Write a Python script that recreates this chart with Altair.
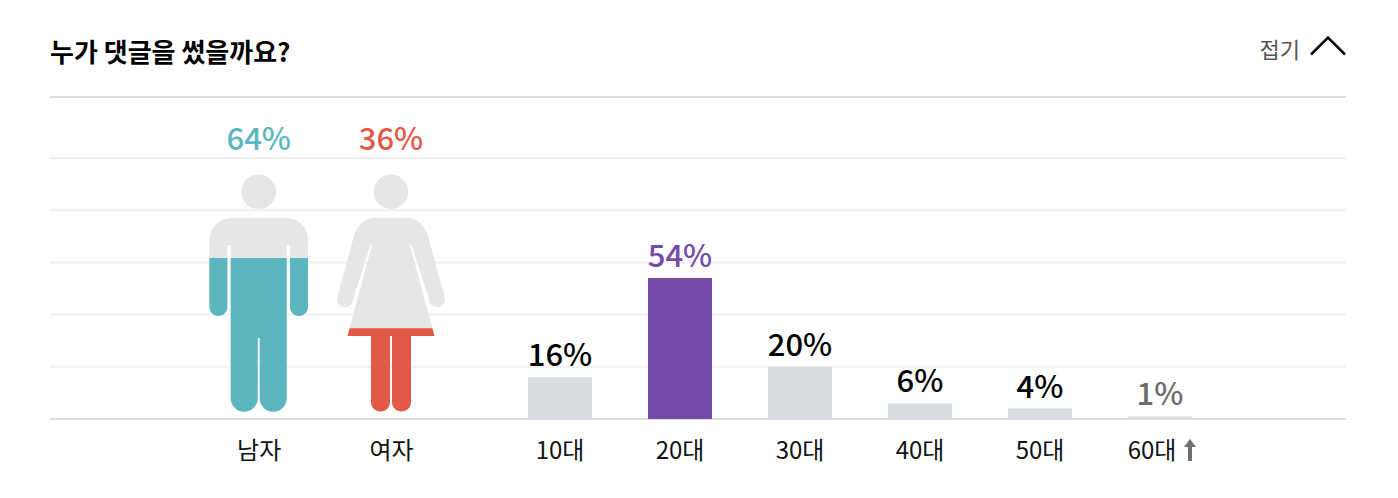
import altair as alt
import pandas as pd

FONT = "Noto Sans CJK KR"

# ---- data -----------------------------------------------------------------
genders = ["남자", "여자"]
gender_pct = [64, 36]
gender_labels = ["64%", "36%"]
ages = ["10대", "20대", "30대", "40대", "50대", "60대"]
age_pct = [16, 54, 20, 6, 4, 1]
age_labels = ["16%", "54%", "20%", "6%", "4%", "1%"]
grid_values = [20, 40, 60, 80, 100]
heading = ["누가 댓글을 썼을까요?"]
fold_label = ["접기"]

# ---- styles ---------------------------------------------------------------
TEAL, RED, PURPLE = "#5cb6c0", "#e15a48", "#764aa8"
BAR_GREY = "#d9dce0"
SILHOUETTE = "#e6e6e6"
age_text_colors = ["#000000", PURPLE, "#000000", "#000000", "#000000", "#6d6d6d"]

HEAD = "M-17.3,-227.3 A17.3,17.3 0 1 1 17.3,-227.3 A17.3,17.3 0 1 1 -17.3,-227.3 Z "
MAN = HEAD + (
    "M-24,-201.3 L24,-201.3 Q49.3,-201.3 49.3,-176 L49.3,-112 A9,9 0 0 1 31.3,-112 "
    "L31.3,-174 L28,-174 L28,-20.8 A13.5,13.5 0 0 1 1,-20.8 L1,-81 L-1,-81 L-1,-20.8 "
    "A13.5,13.5 0 0 1 -28,-20.8 L-28,-174 L-31.3,-174 L-31.3,-112 A9,9 0 0 1 -49.3,-112 "
    "L-49.3,-176 Q-49.3,-201.3 -24,-201.3 Z"
)
MAN_FILL = (
    "M31.3,-161 L49.3,-161 L49.3,-112 A9,9 0 0 1 31.3,-112 Z "
    "M-31.3,-161 L-31.3,-112 A9,9 0 0 1 -49.3,-112 L-49.3,-161 Z "
    "M-28,-161 L28,-161 L28,-20.8 A13.5,13.5 0 0 1 1,-20.8 L1,-81 L-1,-81 L-1,-20.8 "
    "A13.5,13.5 0 0 1 -28,-20.8 Z"
)
WOMAN = HEAD + (
    "M-16,-201.3 L16,-201.3 Q31,-201.3 37.3,-182.3 L54,-120.7 A8,8 0 0 1 39,-116 "
    "L20.7,-174 L19,-174 L43.5,-83 L20,-83 L20,-17 A9.5,9.5 0 0 1 1,-17 L1,-83 L-1,-83 "
    "L-1,-17 A9.5,9.5 0 0 1 -20,-17 L-20,-83 L-43.5,-83 L-19,-174 L-20.7,-174 L-39,-116 "
    "A8,8 0 0 1 -54,-120.7 L-37.3,-182.3 Q-31,-201.3 -16,-201.3 Z"
)
WOMAN_FILL = (
    "M-41.3,-90.7 L41.3,-90.7 L43.5,-83 L20,-83 L20,-17 A9.5,9.5 0 0 1 1,-17 L1,-83 "
    "L-1,-83 L-1,-17 A9.5,9.5 0 0 1 -20,-17 L-20,-83 L-43.5,-83 Z"
)
ARROW = "M0,-11 L6,-3 L2,-3 L2,11 L-2,11 L-2,-3 L-6,-3 Z"
CHEVRON = "M-17,8.5 L0,-8.5 L17,8.5"

# ---- tables ---------------------------------------------------------------
gender_df = pd.DataFrame({"gender": genders, "pct": gender_pct, "label": gender_labels})
age_df = pd.DataFrame({"age": ages, "pct": age_pct, "label": age_labels})
grid_df = pd.DataFrame({"v": grid_values})

# ---- scales ---------------------------------------------------------------
y_scale = alt.Scale(domain=[0, 123.4], range=[322, 0], nice=False)
gender_scale = alt.Scale(type="point", domain=genders, range=[208.7, 341], padding=0)
age_scale = alt.Scale(type="band", domain=ages, range=[422, 1198],
                      paddingInner=0.4667, paddingOuter=0.4667)

label_axis = dict(title=None, orient="bottom", domain=False, ticks=False, grid=False, labelAngle=0,
                  labelFont=FONT, labelFontSize=24, labelColor="#111111",
                  labelPadding=20, labelOverlap=False, labelFontWeight=400)

Y0 = alt.Y(datum=0, scale=y_scale, axis=None)

grid = alt.Chart(grid_df).mark_rule(color="#f0f0f0", strokeWidth=2).encode(
    y=alt.Y("v:Q", scale=y_scale, axis=None))
top_rule = alt.Chart(pd.DataFrame({"v": [123.4]})).mark_rule(color="#dcdcdc", strokeWidth=2).encode(
    y=alt.Y("v:Q", scale=y_scale, axis=None))
base_rule = alt.Chart(pd.DataFrame({"v": [0]})).mark_rule(color="#dcdcdc", strokeWidth=2).encode(
    y=alt.Y("v:Q", scale=y_scale, axis=None))


def figure(gender, path, color, axis=None):
    d = gender_df[gender_df.gender == gender]
    return alt.Chart(d).mark_point(shape=path, size=4, filled=True, opacity=1, color=color).encode(
        x=alt.X("gender:N", scale=gender_scale, axis=axis), y=Y0)


man = figure("남자", MAN, SILHOUETTE, alt.Axis(**label_axis))
man_fill = figure("남자", MAN_FILL, TEAL)
woman = figure("여자", WOMAN, SILHOUETTE)
woman_fill = figure("여자", WOMAN_FILL, RED)

gender_text = alt.Chart(gender_df).mark_text(
    font=FONT, fontSize=31, fontWeight=500, baseline="alphabetic", align="center"
).encode(
    x=alt.X("gender:N", scale=gender_scale, axis=None),
    y=alt.value(53),
    text="label:N",
    color=alt.Color("gender:N", scale=alt.Scale(domain=genders, range=[TEAL, RED]), legend=None),
)

bars = alt.Chart(age_df).mark_bar().encode(
    x=alt.X("age:N", scale=age_scale, sort=ages,
            axis=alt.Axis(labelOffset={"condition": {"test": "datum.label == '60대'", "value": -8}, "value": 0},
                          **label_axis)),
    y=alt.Y("pct:Q", scale=y_scale, axis=None),
    color=alt.condition("datum.age == '20대'", alt.value(PURPLE), alt.value(BAR_GREY)),
)

bar_text = alt.Chart(age_df).mark_text(
    font=FONT, fontSize=31, fontWeight=500, baseline="alphabetic", align="center", dy=-11
).encode(
    x=alt.X("age:N", scale=age_scale, sort=ages, axis=None),
    y=alt.Y("pct:Q", scale=y_scale, axis=None),
    text="label:N",
    color=alt.Color("age:N", scale=alt.Scale(domain=ages, range=age_text_colors), legend=None),
)

arrow = alt.Chart(age_df[age_df.age == "60대"]).mark_point(
    shape=ARROW, size=4, filled=True, opacity=1, color="#6f6f6f", xOffset=30, yOffset=31
).encode(x=alt.X("age:N", scale=age_scale, sort=ages, axis=None), y=Y0)

title_text = alt.Chart(pd.DataFrame({"t": heading})).mark_text(
    font=FONT, fontSize=26, fontWeight=700, color="#000000", align="left", baseline="alphabetic"
).encode(x=alt.value(0), y=alt.value(-35), text="t:N")

fold_text = alt.Chart(pd.DataFrame({"t": fold_label})).mark_text(
    font=FONT, fontSize=22, color="#555555", align="right", baseline="middle"
).encode(x=alt.value(1250), y=alt.value(-46), text="t:N")

chevron = alt.Chart(pd.DataFrame({"t": fold_label})).mark_point(
    shape=CHEVRON, size=4, filled=False, opacity=1, color="#111111", strokeWidth=2.6
).encode(x=alt.value(1278), y=alt.value(-51))

chart = (
    alt.layer(grid, top_rule, base_rule, man, man_fill, woman, woman_fill, gender_text,
              bars, bar_text, arrow, title_text, fold_text, chevron)
    .resolve_scale(x="independent", color="independent")
    .properties(
        width=1296, height=322,
        padding={"left": 42, "top": 89, "right": 44, "bottom": 71},
        autosize=alt.AutoSizeParams(type="none"),
    )
    .configure_view(stroke=None)
)

chart.save("out.html", embed_options={"renderer": "svg", "actions": False})
